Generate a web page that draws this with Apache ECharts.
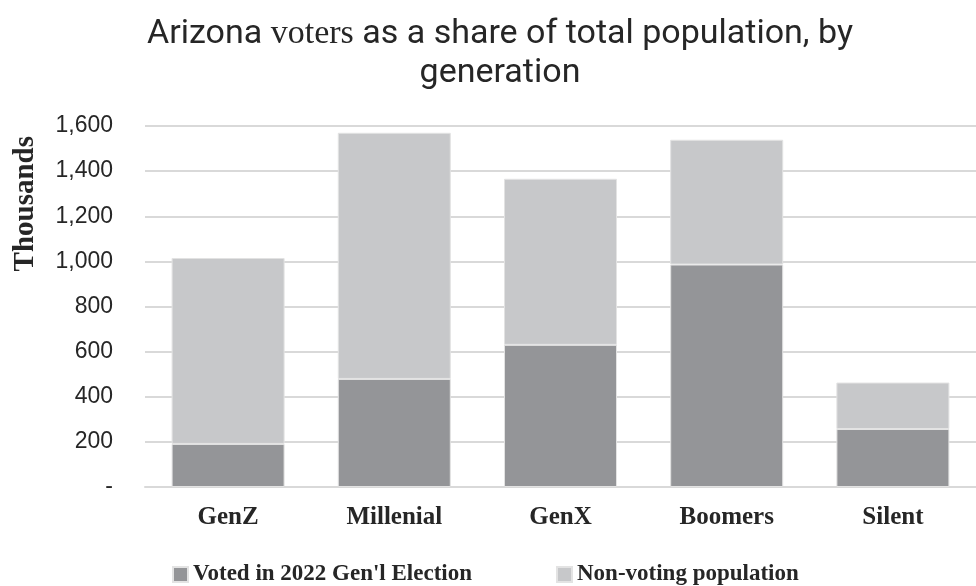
<!DOCTYPE html>
<html>
<head>
<meta charset="utf-8">
<script src="https://cdn.jsdelivr.net/npm/echarts@6/dist/echarts.min.js"></script>
<style>
  html, body { margin: 0; padding: 0; background: #fff; }
  #chart { width: 976px; height: 586px; }
</style>
</head>
<body>
<div id="chart"></div>
<script>
var generations = ['GenZ', 'Millenial', 'GenX', 'Boomers', 'Silent'];
var voted = [191, 479, 630, 986, 257];
var nonVoting = [824, 1091, 736, 553, 206];
var seriesNames = ["Voted in 2022 Gen'l Election", 'Non-voting population'];

var chartDom = document.getElementById('chart');
var myChart = echarts.init(chartDom);
var option;

var serif = '"Liberation Serif", "DejaVu Serif", serif';
var sans = '"Liberation Sans", Arial, sans-serif';

option = {
  animation: false,
  title: {
    text: '{a|Arizona }{b|voters}{a| as a share of total population, by}\n{a|generation}',
    left: 495,
    textAlign: 'center',
    top: 10,
    textStyle: {
      rich: {
        a: { fontFamily: 'Roboto', fontWeight: 'normal', fontSize: 34, color: '#262626', lineHeight: 39 },
        b: { fontFamily: serif, fontWeight: 'normal', fontSize: 34, color: '#262626', lineHeight: 39 }
      }
    }
  },
  legend: {
    top: 558,
    left: 167,
    itemWidth: 15,
    itemHeight: 15,
    itemGap: 84,
    icon: 'rect',
    textStyle: {
      fontFamily: serif,
      fontWeight: 'bold',
      fontSize: 23,
      color: '#262626'
    },
    data: seriesNames
  },
  grid: {
    left: 145,
    right: 0,
    top: 126,
    bottom: 99
  },
  graphic: [{
    type: 'text',
    left: 11,
    top: 136,
    rotation: Math.PI / 2,
    style: {
      text: 'Thousands',
      font: 'bold 29px ' + serif,
      fill: '#262626'
    }
  }],
  xAxis: {
    type: 'category',
    data: generations,
    axisLine: { lineStyle: { color: '#d9d9d9', width: 2 } },
    axisTick: { show: false },
    axisLabel: {
      margin: 18,
      fontFamily: serif,
      fontWeight: 'bold',
      fontSize: 25,
      color: '#262626'
    }
  },
  yAxis: {
    type: 'value',
    min: 0,
    max: 1600,
    interval: 200,
    axisLine: { show: false },
    axisTick: { show: false },
    splitLine: { lineStyle: { color: '#d9d9d9', width: 2 } },
    axisLabel: {
      margin: 32,
      fontFamily: sans,
      fontSize: 23,
      color: '#262626',
      formatter: function (v) {
        return v === 0 ? '-' : v.toLocaleString('en-US');
      }
    }
  },
  series: [
    {
      name: seriesNames[0],
      type: 'bar',
      stack: 'total',
      barWidth: '68%',
      data: voted,
      itemStyle: { color: '#949598', borderColor: '#e3e3e3', borderWidth: 1 }
    },
    {
      name: seriesNames[1],
      type: 'bar',
      stack: 'total',
      barWidth: '68%',
      data: nonVoting,
      itemStyle: { color: '#c7c8ca', borderColor: '#e3e3e3', borderWidth: 1 }
    }
  ]
};

option && myChart.setOption(option);
</script>
</body>
</html>
